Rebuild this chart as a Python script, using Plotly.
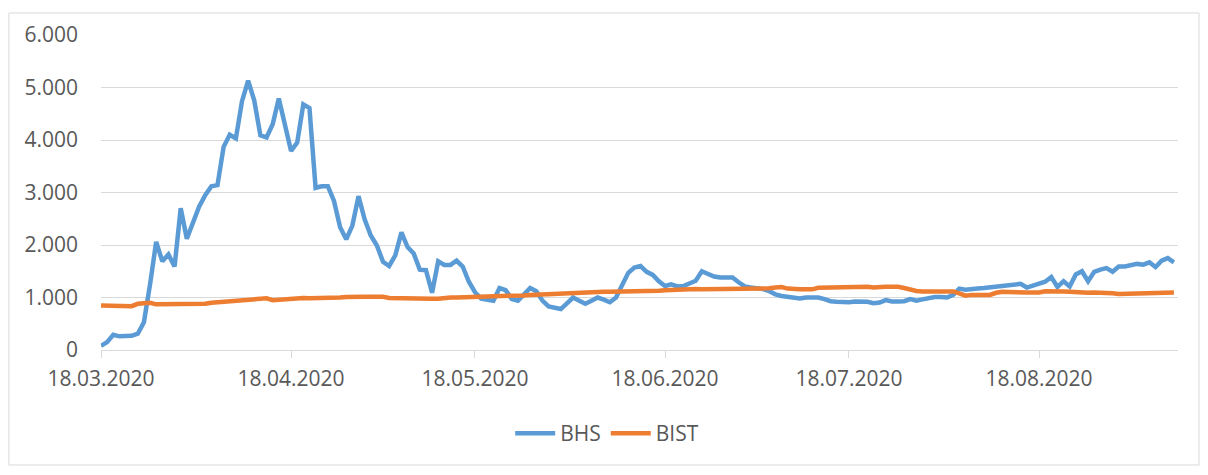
import pandas as pd
import plotly.graph_objects as go

start_date = "2020-03-18"

bhs = [
    80, 150, 290, 260, 265, 270, 310, 530, 1250, 2060,
    1690, 1820, 1590, 2700, 2120, 2400, 2730, 2950, 3120, 3140,
    3870, 4100, 4030, 4740, 5130, 4750, 4090, 4050, 4300, 4790,
    4280, 3790, 3950, 4680, 4610, 3090, 3120, 3120, 2840, 2340,
    2110, 2370, 2930, 2490, 2180, 1990, 1680, 1600, 1800, 2240,
    1960, 1840, 1530, 1520, 1090, 1690, 1620, 1620, 1700, 1590,
    1300, 1100, 980, 950, 940, 1180, 1140, 970, 940, 1060,
    1180, 1120, 940, 830, 810, 780, 890, 1000, 940, 880,
    940, 1000, 960, 910, 1000, 1250, 1470, 1570, 1600, 1490,
    1430, 1310, 1220, 1250, 1210, 1220, 1260, 1320, 1500, 1450,
    1400, 1380, 1370, 1380, 1290, 1210, 1190, 1175, 1160, 1120,
    1060, 1030, 1010, 990, 980, 1000, 1000, 1000, 970, 930,
    920, 910, 910, 925, 925, 920, 890, 905, 950, 925,
    925, 930, 970, 940, 965, 990, 1010, 1010, 1000, 1050,
    1170, 1150, 1170, 1170, 1180, 1190, 1200, 1220, 1240, 1250,
    1260, 1190, 1220, 1260, 1300, 1390, 1200, 1310, 1210, 1440,
    1500, 1310, 1490, 1530, 1560, 1490, 1590, 1590, 1610, 1640,
    1625, 1670, 1580, 1700, 1750, 1670,
]

bist = [
    850, 850, 850, 850, 850, 835, 880, 890, 900, 870,
    870, 870, 870, 870, 880, 880, 880, 880, 900, 910,
    920, 930, 950, 960, 960, 960, 970, 985, 950, 960,
    970, 975, 985, 990, 985, 985, 985, 985, 985, 1000,
    1010, 1005, 1015, 1015, 1015, 1015, 1015, 990, 985, 985,
    985, 985, 975, 975, 975, 975, 995, 1000, 1000, 1000,
    1000, 1010, 1015, 1020, 1025, 1025, 1030, 1030, 1030, 1040,
    1050, 1055, 1060, 1065, 1075, 1085, 1095, 1105, 1110, 1110,
    1110, 1110, 1110, 1110, 1110, 1110, 1110, 1110, 1110, 1120,
    1125, 1130, 1140, 1145, 1150, 1160, 1175, 1160, 1155, 1155,
    1155, 1155, 1155, 1155, 1175, 1170, 1160, 1160, 1160, 1175,
    1190, 1200, 1170, 1155, 1155, 1155, 1155, 1185, 1190, 1190,
    1190, 1205, 1205, 1205, 1205, 1205, 1190, 1205, 1205, 1205,
    1205, 1180, 1150, 1125, 1115, 1115, 1115, 1115, 1115, 1115,
    1080, 1035, 1050, 1050, 1050, 1050, 1090, 1110, 1105, 1095,
    1090, 1095, 1095, 1095, 1120, 1125, 1120, 1115, 1110, 1100,
    1100, 1090, 1095, 1095, 1095, 1080, 1065, 1070, 1075, 1075,
    1080, 1085, 1090, 1095, 1095, 1095,
]

tick_dates = ["2020-03-18", "2020-04-18", "2020-05-18", "2020-06-18", "2020-07-18", "2020-08-18"]
tick_labels = ["18.03.2020", "18.04.2020", "18.05.2020", "18.06.2020", "18.07.2020", "18.08.2020"]

dates = pd.date_range(start_date, periods=len(bhs), freq="D")
font = "Open Sans"
grey = "#595959"

fig = go.Figure()
fig.add_trace(go.Scatter(x=dates, y=bhs, name="BHS", mode="lines",
                         line=dict(color="#5B9BD5", width=4.5)))
fig.add_trace(go.Scatter(x=dates, y=bist, name="BIST", mode="lines",
                         line=dict(color="#ED7D31", width=4.5)))

# page has an 8px body margin, so the figure is 16px smaller than the window
fig.update_layout(
    width=1192, height=459,
    margin=dict(l=93, r=22, t=23, b=117),
    paper_bgcolor="white", plot_bgcolor="white",
    separators=",.",
    font=dict(family=font, size=21, color=grey),
    showlegend=True,
    legend=dict(orientation="h", x=0.47, xanchor="center", y=-0.265, yanchor="middle",
                font=dict(size=21, color=grey), itemwidth=40),
    shapes=[dict(type="rect", xref="paper", yref="paper",
                 x0=-0.0855, x1=1.0195, y0=-0.365, y1=1.07,
                 line=dict(color="#d9d9d9", width=1))],
)
fig.update_xaxes(
    range=["2020-03-18", "2020-09-09 16:00"],
    tickvals=tick_dates, ticktext=tick_labels,
    showgrid=False, showline=True, linecolor="#d9d9d9", linewidth=1,
    ticks="outside", ticklen=7, tickcolor="#d9d9d9", ticklabelstandoff=3,
    zeroline=False,
)
fig.update_yaxes(
    range=[0, 6000], dtick=1000, tickformat=",d",
    showgrid=True, gridcolor="#d9d9d9", gridwidth=1,
    zeroline=False, showline=False, ticks="", ticklabelstandoff=22,
)

fig.write_html("out.html")
